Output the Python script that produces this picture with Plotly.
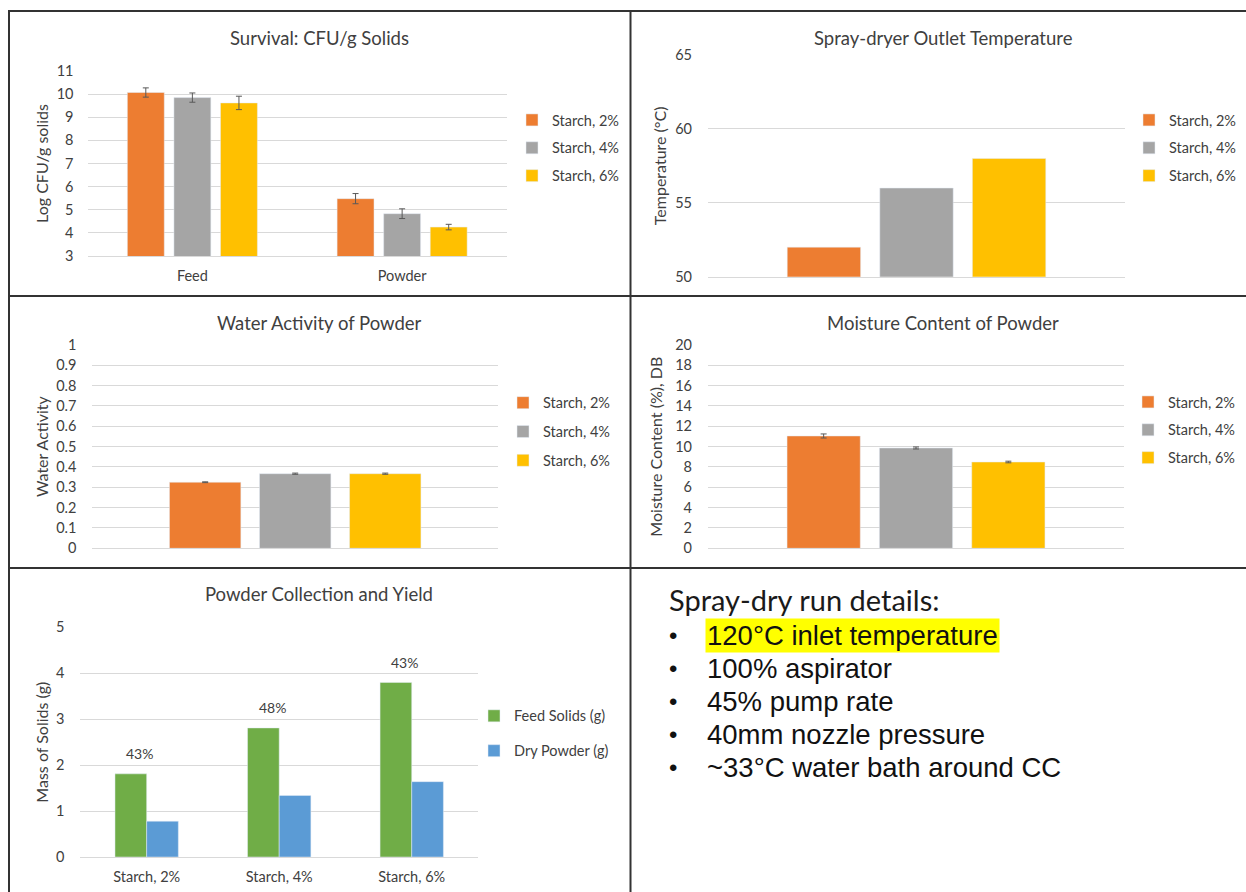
import plotly.graph_objects as go

# ---- data -------------------------------------------------------------
starch = ["Starch, 2%", "Starch, 4%", "Starch, 6%"]
stages = ["Feed", "Powder"]

# Survival (log CFU/g solids): one list per starch level, [Feed, Powder]
cfu_2 = [10.07, 5.48]
cfu_4 = [9.85, 4.83]
cfu_6 = [9.62, 4.25]
cfu_err_2 = [0.20, 0.22]
cfu_err_4 = [0.20, 0.21]
cfu_err_6 = [0.29, 0.12]

# Spray-dryer outlet temperature (deg C)
outlet_temp = [52, 56, 58]

# Water activity of powder
water_activity = [0.325, 0.367, 0.367]
water_activity_err = [0.002, 0.003, 0.003]

# Moisture content (% dry basis)
moisture = [11.05, 9.87, 8.49]
moisture_err = [0.20, 0.10, 0.08]

# Powder collection (g)
feed_solids = [1.81, 2.81, 3.80]
dry_powder = [0.78, 1.34, 1.64]

run_details = [
    "120°C inlet temperature",
    "100% aspirator",
    "45% pump rate",
    "40mm nozzle pressure",
    "~33°C water bath around CC",
]

# ---- styling ----------------------------------------------------------
W, H = 1246, 892
FONT = "Lato"
TXT = "#404040"
GRID = "#D9D9D9"
ERR = "#595959"
starch_colors = ["#ED7D31", "#A5A5A5", "#FFC000"]
GREEN, BLUE = "#70AD47", "#5B9BD5"

BAR_W = 0.176      # bar width in category units
BAR_STEP = 0.222   # distance between neighbouring bars in a group
offsets = [-BAR_STEP - BAR_W / 2, -BAR_W / 2, BAR_STEP - BAR_W / 2]


def fx(px):
    return px / W


def fy(py):
    return 1 - py / H


fig = go.Figure()

# ---- 1. Survival ------------------------------------------------------
for i, (vals, errs) in enumerate([(cfu_2, cfu_err_2), (cfu_4, cfu_err_4), (cfu_6, cfu_err_6)]):
    fig.add_trace(go.Bar(
        x=stages, y=vals, name=starch[i], marker_color=starch_colors[i],
        width=BAR_W, offset=offsets[i], xaxis="x", yaxis="y",
        error_y=dict(type="data", array=errs, color=ERR, thickness=1, width=3),
        legend="legend", legendgroup="s1_%d" % i,
    ))
# ---- 2. Outlet temperature -------------------------------------------
for i in range(3):
    fig.add_trace(go.Bar(
        x=["Outlet"], y=[outlet_temp[i]], name=starch[i],
        marker_color=starch_colors[i], width=BAR_W, offset=offsets[i],
        xaxis="x2", yaxis="y2", legend="legend2", legendgroup="s2_%d" % i,
    ))
# ---- 3. Water activity -----------------------------------------------
for i in range(3):
    fig.add_trace(go.Bar(
        x=["Powder"], y=[water_activity[i]], name=starch[i],
        marker_color=starch_colors[i], width=BAR_W, offset=offsets[i],
        error_y=dict(type="data", array=[water_activity_err[i]], color=ERR, thickness=1, width=3),
        xaxis="x3", yaxis="y3", legend="legend3", legendgroup="s3_%d" % i,
    ))
# ---- 4. Moisture content ---------------------------------------------
for i in range(3):
    fig.add_trace(go.Bar(
        x=["Powder"], y=[moisture[i]], name=starch[i],
        marker_color=starch_colors[i], width=BAR_W, offset=offsets[i],
        error_y=dict(type="data", array=[moisture_err[i]], color=ERR, thickness=1, width=3),
        xaxis="x4", yaxis="y4", legend="legend4", legendgroup="s4_%d" % i,
    ))
# ---- 5. Powder collection --------------------------------------------
Y5_W = 0.239
fig.add_trace(go.Bar(
    x=starch, y=feed_solids, name="Feed Solids (g)", marker_color=GREEN,
    width=Y5_W, offset=-Y5_W, xaxis="x5", yaxis="y5",
    legend="legend5", legendgroup="s5_0",
))
fig.add_trace(go.Bar(
    x=starch, y=dry_powder, name="Dry Powder (g)", marker_color=BLUE,
    width=Y5_W, offset=0, xaxis="x5", yaxis="y5",
    legend="legend5", legendgroup="s5_1",
))
for cat, fs, dp in zip(starch, feed_solids, dry_powder):
    fig.add_annotation(
        x=cat, y=fs, xref="x5", yref="y5", text="%d%%" % round(dp / fs * 100),
        showarrow=False, yshift=20, xshift=-7,
        font=dict(family=FONT, size=14, color=TXT),
    )

# ---- axes -------------------------------------------------------------
tick_font = dict(family=FONT, size=14.5, color=TXT)
title_font = dict(family=FONT, size=16, color=TXT)


def yaxis(dom_px, rng, dtick, title, standoff, label_gap):
    return dict(
        domain=[fy(dom_px[0]), fy(dom_px[1])], range=rng, dtick=dtick,
        showgrid=True, gridcolor=GRID, gridwidth=1, zeroline=False,
        showline=False, ticks="", tickfont=tick_font, ticklabelstandoff=label_gap,
        title=dict(text=title, font=title_font, standoff=standoff),
        fixedrange=True,
    )


def xaxis(dom_px, anchor, labels=True):
    return dict(
        domain=[fx(dom_px[0]), fx(dom_px[1])], anchor=anchor, type="category",
        showgrid=False, zeroline=False, showline=True, linecolor=GRID, linewidth=1,
        ticks="", showticklabels=labels, tickfont=tick_font, ticklabelstandoff=7,
        fixedrange=True,
    )


fig.update_layout(
    xaxis=xaxis((87.5, 507), "y"),
    yaxis=yaxis((256, 71), [3, 11], 1, "Log CFU/g solids", 4, 13),
    xaxis2=xaxis((708, 1125), "y2", labels=False),
    yaxis2=yaxis((276.7, 55), [50, 65], 5, "Temperature (°C)", 4, 15),
    xaxis3=xaxis((92.4, 498), "y3", labels=False),
    yaxis3=yaxis((548.3, 345), [0, 1], 0.1, "Water Activity", 3, 15),
    xaxis4=xaxis((708, 1124), "y4", labels=False),
    yaxis4=yaxis((548.3, 345), [0, 20], 2, "Moisture Content (%), DB", 8, 15),
    xaxis5=xaxis((80.4, 478), "y5"),
    yaxis5=yaxis((857, 627.3), [0, 5], 1, "Mass of Solids (g)", 3, 15),
)
fig.update_layout(
    yaxis=dict(anchor="x"), yaxis2=dict(anchor="x2"), yaxis3=dict(anchor="x3"),
    yaxis4=dict(anchor="x4"), yaxis5=dict(anchor="x5"),
)

# ---- legends ----------------------------------------------------------
def legend(text_x, mid_y, gap):
    return dict(
        x=fx(text_x - 38), y=fy(mid_y), xanchor="left", yanchor="middle",
        xref="paper", yref="paper", bgcolor="rgba(0,0,0,0)",
        font=dict(family=FONT, size=14.5, color=TXT), tracegroupgap=gap,
        itemclick=False, itemdoubleclick=False,
    )


fig.update_layout(
    legend=legend(550, 148, 6),
    legend2=legend(1167, 148, 6),
    legend3=legend(541, 431.7, 7),
    legend4=legend(1166, 430, 6),
    legend5=legend(512, 733.4, 13),
)

# ---- chart titles -----------------------------------------------------
titles = [
    ("Survival: CFU/g Solids", 319, 37.7),
    ("Spray-dryer Outlet Temperature", 943, 37.7),
    ("Water Activity of Powder", 320, 323.3),
    ("Moisture Content of Powder", 943, 323.3),
    ("Powder Collection and Yield", 319.4, 594.3),
]
for text, cx, cy in titles:
    fig.add_annotation(
        x=fx(cx), y=fy(cy), xref="paper", yref="paper", text=text,
        showarrow=False, xanchor="center", yanchor="middle",
        font=dict(family=FONT, size=18.5, color=TXT),
    )

# ---- run details panel ------------------------------------------------
fig.add_annotation(
    x=fx(667), y=fy(599.3), xref="paper", yref="paper",
    text="Spray-dry run details:", showarrow=False,
    xanchor="left", yanchor="middle",
    font=dict(family=FONT, size=29, color="#1a1a1a"),
)
for k, line in enumerate(run_details):
    cy = 635 + k * 33.2
    fig.add_annotation(
        x=fx(673), y=fy(cy), xref="paper", yref="paper", text="•",
        showarrow=False, xanchor="center", yanchor="middle",
        font=dict(family="Liberation Sans", size=24, color="#111111"),
    )
    fig.add_annotation(
        x=fx(705), y=fy(cy), xref="paper", yref="paper", text=line,
        showarrow=False, xanchor="left", yanchor="middle",
        font=dict(family="Liberation Sans", size=27.5, color="#111111"),
        bgcolor="#FFFF00" if k == 0 else "rgba(0,0,0,0)", borderpad=1,
    )

# ---- panel borders ----------------------------------------------------
border = dict(color="#333333", width=2)
for x0, y0, x1, y1 in [
    (8, 11, W, 11),
    (9, 11, 9, H),
    (630.5, 11, 630.5, H),
    (9, 296, W, 296),
    (9, 568, W, 568),
]:
    fig.add_shape(type="line", xref="paper", yref="paper",
                  x0=fx(x0), y0=fy(y0), x1=fx(x1), y1=fy(y1), line=border)

fig.update_layout(
    width=W, height=H, margin=dict(l=0, r=0, t=0, b=0, autoexpand=False),
    paper_bgcolor="white", plot_bgcolor="white",
    barmode="group", showlegend=True,
    font=dict(family=FONT, color=TXT),
)

fig.write_html("out.html", include_plotlyjs=True, config={"displayModeBar": False})
